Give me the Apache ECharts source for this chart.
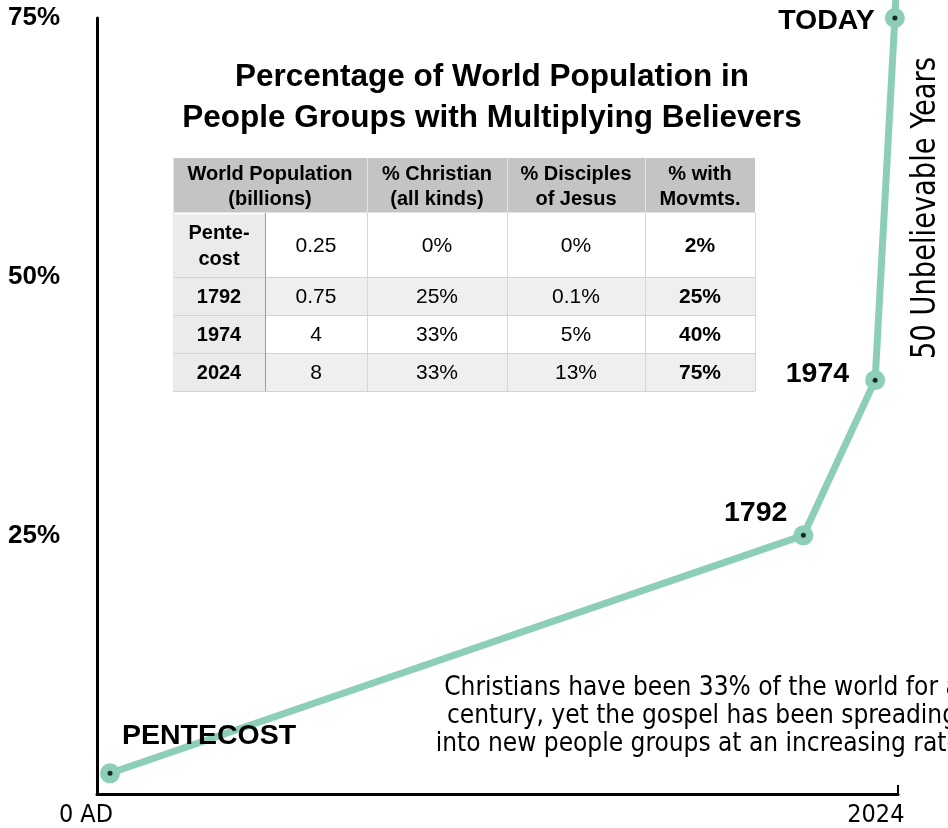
<!DOCTYPE html>
<html>
<head>
<meta charset="utf-8">
<script src="https://cdn.jsdelivr.net/npm/echarts@6/dist/echarts.min.js"></script>
<style>
html,body{margin:0;padding:0;background:#fff;}
#chart{width:948px;height:828px;}
</style>
</head>
<body>
<div id="chart"></div>
<script>
// ---- data ----
const years = [33, 1792, 1974, 2024];
const movementPct = [2, 25, 40, 75];
const pointLabels = ['PENTECOST', '1792', '1974', 'TODAY'];
// line continues beyond the top of the plot after TODAY
const continuation = [2027, 77.5];

const yTicks = [0, 25, 50, 75];
const xTickLabels = { 0: '0 AD', 2024: '2024' };

const titleLines = ['Percentage of World Population in', 'People Groups with Multiplying Believers'];
const tableHeaders = ['World Population\n(billions)', '% Christian\n(all kinds)', '% Disciples\nof Jesus', '% with\nMovmts.'];
const rowLabels = ['Pente-\ncost', '1792', '1974', '2024'];
const population = ['0.25', '0.75', '4', '8'];
const christianPct = ['0%', '25%', '33%', '33%'];
const disciplesPct = ['0%', '0.1%', '5%', '13%'];
const movementsPct = ['2%', '25%', '40%', '75%'];

const sideNote = '50 Unbelievable Years';
const noteLines = ['Christians have been 33% of the world for a', 'century, yet the gospel has been spreading', 'into new people groups at an increasing rate.'];

// ---- styles ----
const MINT = '#8ccfb6';
const BOLD = 'Liberation Sans, Arial, Helvetica, sans-serif';
const NARROW = 'Liberation Sans Narrow, Arial Narrow, DejaVu Sans Condensed, sans-serif';

const labelPos = [
  { position: [22, -27], align: 'left', verticalAlign: 'middle' },
  { position: [-6, -12], align: 'right', verticalAlign: 'middle' },
  { position: [-16, 4], align: 'right', verticalAlign: 'middle' },
  { position: [-10, 13], align: 'right', verticalAlign: 'middle' }
];

const lineData = years.map((y, i) => ({
  value: [y, movementPct[i]],
  label: Object.assign({
    show: true, formatter: pointLabels[i], fontFamily: BOLD, fontWeight: 'bold', fontSize: 28.5, color: '#000'
  }, labelPos[i])
}));
lineData.push({ value: continuation, symbol: 'none', label: { show: false } });

// ---- table (graphic) ----
const colX = [173, 265, 367, 507, 645, 755];
const rowY = [158, 213, 277, 315, 353, 391];
const graphics = [];
function rect(x, y, w, h, fill) {
  graphics.push({ type: 'rect', shape: { x, y, width: w, height: h }, style: { fill }, silent: true });
}
function line(x1, y1, x2, y2, stroke, lw) {
  graphics.push({ type: 'line', shape: { x1, y1, x2, y2 }, style: { stroke, lineWidth: lw || 1 }, silent: true });
}
function text(str, x, y, font, opts) {
  graphics.push(Object.assign({ type: 'text', x, y, silent: true,
    style: Object.assign({ text: str, font, fill: '#000', align: 'center', verticalAlign: 'middle' }, (opts && opts.style) || {}) },
    (opts && opts.el) || {}));
}
// header
rect(colX[0], rowY[0], colX[5] - colX[0], rowY[1] - rowY[0], '#c4c4c4');
// body rows
const rowsFill = ['#ffffff', '#efefef', '#ffffff', '#efefef'];
for (let r = 0; r < 4; r++) {
  rect(colX[0], rowY[r + 1], colX[5] - colX[0], rowY[r + 2] - rowY[r + 1], rowsFill[r]);
  rect(colX[0], rowY[r + 1], colX[1] - colX[0], rowY[r + 2] - rowY[r + 1], '#ebebeb');
}
// grid lines
for (let r = 2; r <= 5; r++) line(colX[0], rowY[r] + 0.5, colX[5], rowY[r] + 0.5, '#d2d2d2');
line(colX[0], rowY[1] + 0.5, colX[5], rowY[1] + 0.5, '#ffffff', 2);
for (let c = 2; c <= 5; c++) line(colX[c] + 0.5, rowY[1], colX[c] + 0.5, rowY[5], '#d6d6d6');
for (let c = 2; c <= 4; c++) line(colX[c] + 0.5, rowY[0], colX[c] + 0.5, rowY[1], '#e2e2e2');
line(colX[1] + 0.5, rowY[1], colX[1] + 0.5, rowY[5], '#9a9a9a');
line(colX[0] + 0.5, rowY[0], colX[0] + 0.5, rowY[5], '#e6e6e6');
// header text
const hdrCenters = [(colX[0] + colX[2]) / 2, (colX[2] + colX[3]) / 2, (colX[3] + colX[4]) / 2, (colX[4] + colX[5]) / 2];
tableHeaders.forEach((h, i) => text(h, hdrCenters[i], (rowY[0] + rowY[1]) / 2 + 1, 'bold 20px ' + BOLD, { style: { lineHeight: 25 } }));
// body text
const cols = [population, christianPct, disciplesPct, movementsPct];
for (let r = 0; r < 4; r++) {
  const cy = (rowY[r + 1] + rowY[r + 2]) / 2 + 1;
  text(rowLabels[r], (colX[0] + colX[1]) / 2, cy, 'bold 20px ' + BOLD, { style: { lineHeight: 26 } });
  cols.forEach((arr, c) => {
    text(arr[r], (colX[c + 1] + colX[c + 2]) / 2, cy, (c === 3 ? 'bold ' : '') + '21px ' + BOLD);
  });
}
// title
titleLines.forEach((t, i) => text(t, 492, 77 + i * 41, 'bold 31.5px ' + BOLD));
// side note
text(sideNote, 926, 208, '33px ' + NARROW, { el: { rotation: Math.PI / 2, scaleX: 0.92 } });
// bottom note
noteLines.forEach((t, i) => text(t, 702, 688 + i * 28, '26px ' + NARROW));

const chart = echarts.init(document.getElementById('chart'));
chart.setOption({
  animation: false,
  grid: { left: 97, right: 50, top: 18, bottom: 33 },
  xAxis: {
    type: 'value', min: 0, max: 2032,
    splitLine: { show: false },
    axisLine: { show: true, onZero: false, lineStyle: { color: '#000', width: 3 } },
    axisTick: { show: true, inside: true, length: 9, customValues: [2032], lineStyle: { color: '#000', width: 2 } },
    axisLabel: {
      show: true, customValues: [0, 2024], margin: 9,
      formatter: v => v === 0 ? '{a|' + xTickLabels[v] + '}' : '{b|' + xTickLabels[v] + '}',
      rich: {
        a: { fontFamily: NARROW, fontSize: 25, color: '#000', padding: [0, 22, 0, 0] },
        b: { fontFamily: NARROW, fontSize: 25, color: '#000', padding: [0, 38, 0, 0] }
      }
    }
  },
  yAxis: {
    type: 'value', min: 0, max: 75, interval: 25,
    splitLine: { show: false },
    axisLine: { show: true, lineStyle: { color: '#000', width: 3 } },
    axisTick: { show: false },
    axisLabel: {
      margin: 89, align: 'left', fontFamily: BOLD, fontWeight: 'bold', fontSize: 26, color: '#000',
      padding: [5, 0, 0, 0],
      formatter: v => v === 0 ? '' : v + '%'
    }
  },
  graphic: { elements: graphics },
  series: [
    {
      type: 'line', data: lineData, clip: false,
      lineStyle: { color: MINT, width: 7 },
      itemStyle: { color: MINT },
      symbol: 'circle', symbolSize: 20, showAllSymbol: true, z: 3
    },
    {
      type: 'scatter', data: years.map((y, i) => [y, movementPct[i]]),
      symbolSize: 5, itemStyle: { color: '#000' }, z: 4, silent: true
    }
  ]
});
</script>
</body>
</html>
